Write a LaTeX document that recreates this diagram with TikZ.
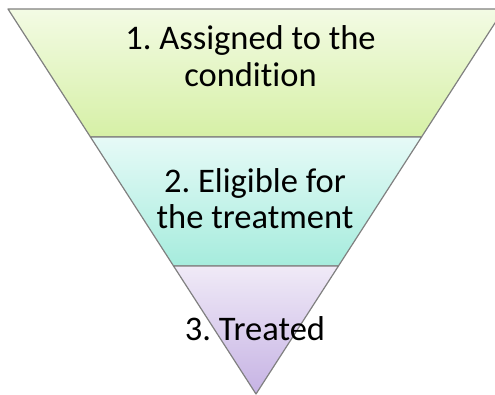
\documentclass[tikz,border=0pt]{standalone}
\usepackage{fontspec}
\setmainfont{Carlito}[Ligatures=NoCommon]
\frenchspacing
\usetikzlibrary{calc}
\definecolor{funnel edge color}{HTML}{808080}
\definecolor{assigned top}{HTML}{F3FBE4}
\definecolor{assigned bottom}{HTML}{D6F0A6}
\definecolor{eligible top}{HTML}{E6FAF7}
\definecolor{eligible bottom}{HTML}{A6ECDD}
\definecolor{treated top}{HTML}{F0EAF7}
\definecolor{treated bottom}{HTML}{C6B3E4}
\tikzset{
    x={1pt},
    y={-1pt},
    funnel outline/.style={
        draw=funnel edge color,
        line width={1.2pt},
        line join=round,
    },
    funnel band/.style 2 args={
        funnel outline,
        top color={#1},
        bottom color={#2},
    },
    band label/.style={
        font={\fontsize{34.5}{36.5}\selectfont},
        align=center,
        inner sep=0pt,
        text=black,
    },
}

\begin{document}
\begin{tikzpicture}
% background
\useasboundingbox (0,0) rectangle (495,395);
\clip (0,0) rectangle (495,395);
\coordinate (top left) at (8,9);
\coordinate (top right) at (504,9);
\coordinate (apex) at (256,394);
\coordinate (left 1) at ($(top left)!0.3325!(apex)$);
\coordinate (right 1) at ($(top right)!0.3325!(apex)$);
\coordinate (left 2) at ($(top left)!0.6675!(apex)$);
\coordinate (right 2) at ($(top right)!0.6675!(apex)$);
% bands
\path[funnel band={assigned top}{assigned bottom}] (top left) -- (top right) -- (right 1) -- (left 1) -- cycle;
\path[funnel band={eligible top}{eligible bottom}] (left 1) -- (right 1) -- (right 2) -- (left 2) -- cycle;
\path[funnel band={treated top}{treated bottom}] (left 2) -- (right 2) -- (apex) -- cycle;
% labels
\node[band label] (assigned) at (250.5,56) {1. Assigned to the\\condition};
\node[band label] (eligible) at (255,198.5) {2. Eligible for\\the treatment};
\node[band label] (treated) at (255,329) {3. Treated};
\end{tikzpicture}
\end{document}
